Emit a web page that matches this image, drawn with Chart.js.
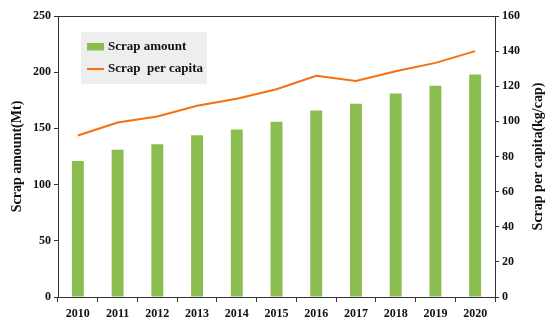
<!DOCTYPE html>
<html><head><meta charset="utf-8">
<script src="https://cdn.jsdelivr.net/npm/chart.js@4"></script>
<style>html,body{margin:0;padding:0;background:#fff}#wrap{width:550px;height:326px}</style>
</head><body><div id="wrap"><canvas id="c"></canvas></div>
<script>
const categories = ['2010','2011','2012','2013','2014','2015','2016','2017','2018','2019','2020'];
const scrapAmount = [121, 131, 136, 144, 149, 156, 166, 172, 181, 188, 198];
const scrapPerCapita = [92, 99.4, 102.8, 108.9, 112.9, 118.3, 126, 123, 128.5, 133.3, 140];
const leftTicks = [0, 50, 100, 150, 200, 250];
const rightTicks = [0, 20, 40, 60, 80, 100, 120, 140, 160];

const FONT = "'Liberation Serif', 'Times New Roman', serif";
const AXIS = '#333';
const GREEN = '#8cbd50';
const ORANGE = '#f5700f';

const decor = {
  id: 'decor',
  afterDraw(chart) {
    const {ctx, chartArea: a} = chart;
    ctx.save();
    ctx.strokeStyle = AXIS; ctx.lineWidth = 1;
    ctx.beginPath(); ctx.moveTo(a.left, a.top + 0.5); ctx.lineTo(a.right, a.top + 0.5); ctx.stroke();
    const lx = a.left + 23, ly = a.top + 16, lw = 126, lh = 52;
    ctx.fillStyle = '#eeeeee';
    ctx.fillRect(lx, ly, lw, lh);
    ctx.fillStyle = GREEN;
    ctx.fillRect(lx + 6, ly + 11, 17, 7.5);
    ctx.strokeStyle = ORANGE; ctx.lineWidth = 2;
    ctx.beginPath(); ctx.moveTo(lx + 6, ly + 37); ctx.lineTo(lx + 23, ly + 37); ctx.stroke();
    ctx.fillStyle = '#111';
    ctx.font = 'bold 13px ' + FONT;
    ctx.textBaseline = 'middle'; ctx.textAlign = 'left';
    ctx.fillText(chart.data.datasets[0].label, lx + 27, ly + 15);
    ctx.fillText(chart.data.datasets[1].label, lx + 27, ly + 37);
    ctx.save();
    ctx.translate(538, (a.top + a.bottom) / 2);
    ctx.rotate(-Math.PI / 2);
    ctx.textAlign = 'center';
    ctx.font = 'bold 14px ' + FONT;
    ctx.fillText('Scrap per capita(kg/cap)', 0, 0);
    ctx.restore();
    ctx.restore();
  }
};

new Chart(document.getElementById('c'), {
  type: 'bar',
  data: {
    labels: categories,
    datasets: [
      { type: 'bar', label: 'Scrap amount', data: scrapAmount, backgroundColor: GREEN, yAxisID: 'y', barPercentage: 0.3, categoryPercentage: 1.0, order: 2 },
      { type: 'line', label: 'Scrap  per capita', data: scrapPerCapita, borderColor: ORANGE, backgroundColor: ORANGE, borderWidth: 2, pointRadius: 0, tension: 0, yAxisID: 'y1', order: 1 }
    ]
  },
  options: {
    responsive: true, maintainAspectRatio: false, animation: false,
    layout: { padding: { top: 16, left: 0, right: 0, bottom: 0 } },
    plugins: { legend: { display: false }, tooltip: { enabled: false } },
    scales: {
      x: {
        grid: { display: true, drawOnChartArea: false, tickLength: 5, color: AXIS, offset: true },
        border: { color: AXIS, width: 1 },
        ticks: { color: '#111', font: { family: FONT, size: 12, weight: 'bold' }, padding: 5, maxRotation: 0 },
        afterFit(s) { s.height = 29; }
      },
      y: {
        position: 'left', min: 0, max: 250,
        afterBuildTicks(s) { s.ticks = leftTicks.map(v => ({ value: v })); },
        grid: { display: true, drawOnChartArea: false, tickLength: 4, color: AXIS },
        border: { color: AXIS, width: 1 },
        ticks: { color: '#111', font: { family: FONT, size: 12, weight: 'bold' }, padding: 3 },
        title: { display: true, text: 'Scrap amount(Mt)', color: '#111', font: { family: FONT, size: 14, weight: 'bold' }, padding: { top: 9, bottom: 0 } },
        afterFit(s) { s.width = 58; }
      },
      y1: {
        position: 'right', min: 0, max: 160,
        afterBuildTicks(s) { s.ticks = rightTicks.map(v => ({ value: v })); },
        grid: { display: true, drawOnChartArea: false, tickLength: 4, color: AXIS },
        border: { color: AXIS, width: 1 },
        ticks: { color: '#111', font: { family: FONT, size: 12, weight: 'bold' }, padding: 3 },
        afterFit(s) { s.width = 55; }
      }
    }
  },
  plugins: [decor]
});
</script></body></html>
